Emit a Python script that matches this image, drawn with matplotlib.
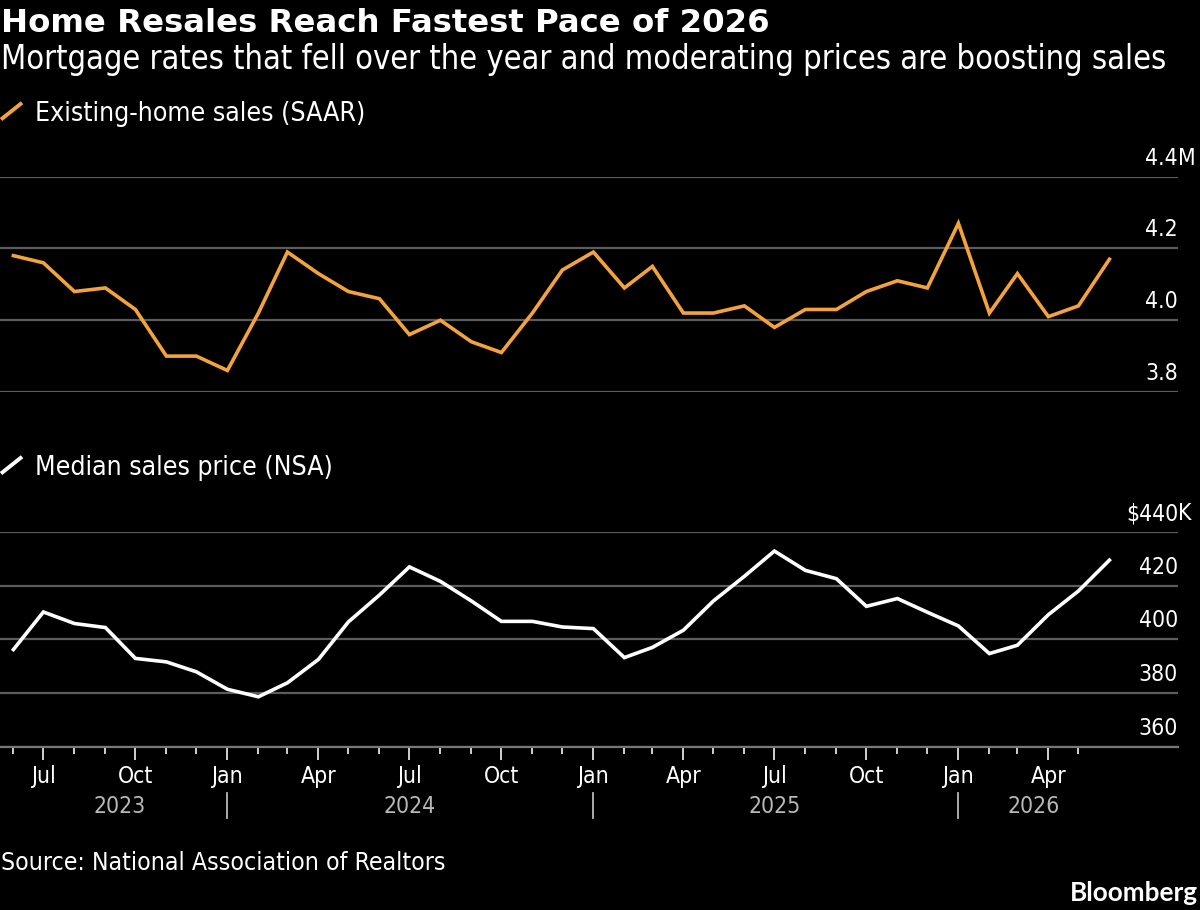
import matplotlib
matplotlib.use('Agg')
import matplotlib.pyplot as plt
import matplotlib.dates as mdates
import matplotlib.transforms as mtransforms
import pandas as pd

# Daten ------------------------------------------------------------------------

months = pd.date_range('2023-06-01', '2026-06-01', freq='MS')

# Existing-home sales, SAAR, Mio.
sales = [4.18, 4.16, 4.08, 4.09, 4.03, 3.90, 3.90,
         3.86, 4.02, 4.19, 4.13, 4.08, 4.06, 3.96, 4.00, 3.94, 3.91, 4.02, 4.14,
         4.19, 4.09, 4.15, 4.02, 4.02, 4.04, 3.98, 4.03, 4.03, 4.08, 4.11, 4.09,
         4.27, 4.02, 4.13, 4.01, 4.04, 4.17]

# Median sales price, NSA, Tsd. USD
price = [396.2, 410.2, 405.9, 404.4, 392.9, 391.6, 387.9,
         381.4, 378.6, 383.8, 392.5, 406.5, 416.5, 427.0, 421.6, 414.3, 406.7, 406.7, 404.6,
         404.0, 393.2, 397.0, 403.4, 414.3, 423.5, 432.9, 425.7, 422.6, 412.3, 415.2, 410.1,
         405.0, 394.7, 397.8, 409.2, 418.0, 429.5]

sales_ticks = [3.8, 4.0, 4.2, 4.4]
sales_labels = ['3.8', '4.0', '4.2', '4.4']
price_ticks = [360, 380, 400, 420, 440]
price_labels = ['360', '380', '400', '420', '$440']

years = ['2023', '2024', '2025', '2026']
year_pos = ['2023-09-15', '2024-07-01', '2025-07-01', '2026-03-17']
year_breaks = ['2024-01-01', '2025-01-01', '2026-01-01']

title = 'Home Resales Reach Fastest Pace of 2026'
subtitle = 'Mortgage rates that fell over the year and moderating prices are boosting sales'
source = 'Source: National Association of Realtors'

# Stil -------------------------------------------------------------------------

W, H = 1200, 910
orange = '#F4A33B'
grid_col = '#5c5c5c'
plt.rcParams['font.family'] = ['DejaVu Sans']

fig = plt.figure(figsize=(W / 100, H / 100), dpi=100, facecolor='black')
# Pixel-Koordinaten von oben links
ypx = mtransforms.Affine2D().scale(1 / W, -1 / H).translate(0, 1) + fig.transFigure

ax_right = 1178
ax1 = fig.add_axes([0, 1 - 392 / H, ax_right / W, (392 - 176.7) / H])
ax2 = fig.add_axes([0, 1 - 746.7 / H, ax_right / W, (746.7 - 532) / H])

x0 = mdates.date2num(pd.Timestamp('2023-06-01')) - 13.4
x1 = x0 + ax_right  # ca. 1 px pro Tag

for ax in (ax1, ax2):
    ax.set_facecolor('black')
    ax.set_xlim(x0, x1)
    for s in ax.spines.values():
        s.set_visible(False)
    ax.tick_params(axis='y', left=False, labelleft=False)
    ax.grid(axis='y', color=grid_col, lw=1.6)
    ax.set_axisbelow(True)

ax1.plot(months, sales, color=orange, lw=2.6, solid_joinstyle='miter')
ax1.set_ylim(3.8, 4.4)
ax1.set_yticks(sales_ticks)
ax1.tick_params(axis='x', bottom=False, labelbottom=False)

ax2.plot(months, price, color='white', lw=2.6, solid_joinstyle='miter')
ax2.set_ylim(360, 440)
ax2.set_yticks(price_ticks)

# y-Beschriftung rechts ueber den Gitterlinien
cond = dict(fontstretch='condensed', fontsize=16.5)
for ax, ticks, labels, unit in ((ax1, sales_ticks, sales_labels, 'M'),
                                (ax2, price_ticks, price_labels, 'K')):
    tr = ax.get_yaxis_transform() + mtransforms.ScaledTranslation(0, 12 / 100, fig.dpi_scale_trans)
    for v, lab in zip(ticks, labels):
        ax.text(1.0, v, lab, transform=tr, ha='right', va='baseline', color='white', **cond)
        if v == ticks[-1]:
            ax.text(1.0, v, unit, transform=tr, ha='left', va='baseline', color='white', **cond)

# x-Achse mit Monatsstrichen
major = [m for m in months[:-1] if m.month in (1, 4, 7, 10)]
minor = [m for m in months[:-1] if m.month not in (1, 4, 7, 10)]
ax2.set_xticks(major)
ax2.set_xticks(minor, minor=True)
ax2.tick_params(axis='x', which='major', length=9.2, width=1.4, color='#d0d0d0', labelbottom=False)
ax2.tick_params(axis='x', which='minor', length=4.8, width=1.4, color='#d0d0d0')
ax2.spines['bottom'].set_visible(True)
ax2.spines['bottom'].set_color('#777777')
ax2.spines['bottom'].set_linewidth(1.6)

xpx = mtransforms.blended_transform_factory(ax2.transData, ypx)
for m in major:
    ax2.text(m, 783.3, m.strftime('%b'), transform=xpx, ha='center', va='baseline',
             color='white', **cond)
for y, p in zip(years, year_pos):
    ax2.text(pd.Timestamp(p), 812.7, y, transform=xpx, ha='center', va='baseline',
             color='#b8b8b8', **cond)
for b in year_breaks:
    ax2.plot([pd.Timestamp(b)] * 2, [793, 818], transform=xpx, color='#b8b8b8',
             lw=1.3, clip_on=False)

# Texte ------------------------------------------------------------------------

renderer = fig.canvas.get_renderer()


def fit(t, width):
    # Schriftgroesse so anpassen, dass der Text die Breite aus dem Original hat
    w = t.get_window_extent(renderer).width
    t.set_fontsize(t.get_fontsize() * width / w)


t = fig.text(1, 32.3, title, transform=ypx, va='baseline', color='white',
             fontweight='bold', fontsize=22)
fit(t, 766)
t = fig.text(1, 69.3, subtitle, transform=ypx, va='baseline', color='white',
             fontstretch='condensed', fontsize=20)
fit(t, 1168)

leg1 = fig.text(35, 120.7, 'Existing-home sales (SAAR)', transform=ypx, va='baseline',
                color='white', fontstretch='condensed', fontsize=17)
fit(leg1, 330)
fig.text(35, 474.7, 'Median sales price (NSA)', transform=ypx, va='baseline',
         color='white', fontstretch='condensed', fontsize=leg1.get_fontsize())
fig.add_artist(plt.Line2D([2.5, 20.5], [118.3, 104], transform=ypx, color=orange, lw=2.8))
fig.add_artist(plt.Line2D([2.5, 20.5], [472.3, 458], transform=ypx, color='white', lw=2.8))

t = fig.text(1, 870, source, transform=ypx, va='baseline', color='white',
             fontstretch='condensed', fontsize=16)
fit(t, 446)
t = fig.text(1198, 901, 'Bloomberg', transform=ypx, va='baseline', ha='right',
             color='white', fontweight='bold', fontsize=16, family=['Lato', 'DejaVu Sans'])
fit(t, 128)

fig.savefig('out.png', dpi=100, facecolor='black')
